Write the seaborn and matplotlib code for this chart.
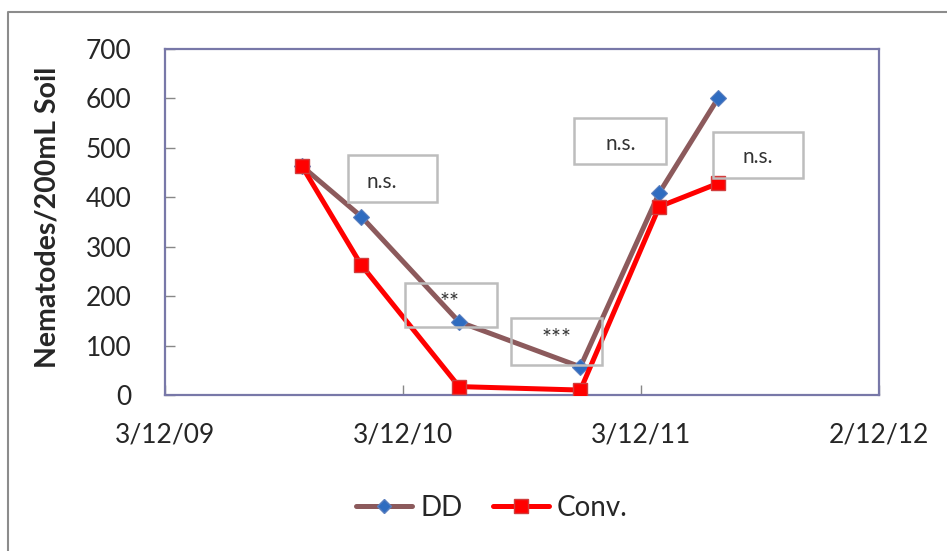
import pandas as pd
import seaborn as sns
import matplotlib.pyplot as plt
from matplotlib.patches import Rectangle
from matplotlib.lines import Line2D

# sampling dates and nematode counts
dates = pd.to_datetime(['2010-07-01', '2010-09-30', '2011-02-27',
                        '2011-09-01', '2011-12-31', '2012-03-30'])
dd_values = [463, 361, 148, 57, 409, 600]
conv_values = [463, 263, 17, 10, 381, 428]
series_names = ['DD', 'Conv.']

# x axis ticks (d/m/yy)
tick_dates = pd.to_datetime(['2009-12-03', '2010-12-03', '2011-12-03', '2012-12-02'])
tick_labels = ['3/12/09', '3/12/10', '3/12/11', '2/12/12']

# significance labels, one per box
sig_labels = ['n.s.', '**', '***', 'n.s.', 'n.s.']

sns.set_style('white')
plt.rcParams['font.family'] = ['Lato', 'DejaVu Sans']

W, H = 947, 551
fig = plt.figure(figsize=(W / 100, H / 100), dpi=100)
ax = fig.add_axes([165 / W, 1 - 395 / H, (879 - 165) / W, (395 - 49) / H])

df = pd.DataFrame({'date': dates, 'DD': dd_values, 'Conv.': conv_values})

dd_col = '#8C5A5C'
conv_col = '#FF0000'

sns.lineplot(data=df, x='date', y='DD', ax=ax, color=dd_col, lw=3.6,
             marker='D', markersize=8, markerfacecolor='#2F6CC0',
             markeredgecolor='#5B7FBF', markeredgewidth=0.8, zorder=3)
sns.lineplot(data=df, x='date', y='Conv.', ax=ax, color=conv_col, lw=3.6,
             marker='s', markersize=10, markerfacecolor='#FF0000',
             markeredgecolor='#D23C3C', markeredgewidth=1.0, zorder=4)

ax.set_xlim(tick_dates[0], tick_dates[-1])
ax.set_ylim(0, 700)
ax.set_yticks(range(0, 701, 100))
ax.set_xticks(tick_dates)
ax.set_xticklabels(tick_labels)

frame_col = '#7878A8'
for s in ax.spines.values():
    s.set_color(frame_col)
    s.set_linewidth(1.6)

ax.tick_params(axis='y', direction='in', length=7, width=1, color='#888888',
               labelsize=19, pad=24, left=True)
ax.tick_params(axis='x', direction='in', length=7, width=1, color='#888888',
               labelsize=19, pad=20, bottom=True)
ax.set_xlabel('')
ax.set_ylabel('Nematodes/200mL Soil', fontsize=20.5, fontweight='bold')
ax.yaxis.set_label_coords((61 - 165) / (879 - 165), (395 - 217) / (395 - 49))

# significance boxes (pixel positions: left, top, width, height, text x, text y)
boxes = [
    (348, 155, 89, 47, 382, 182),
    (405, 283, 92, 44, 450, 303),
    (511, 318, 91, 47, 557, 339),
    (574, 118, 92, 46, 621, 144),
    (713, 132, 90, 46, 758, 157),
]
for (x0, y0, w, h, tx, ty), lab in zip(boxes, sig_labels):
    fig.patches.append(Rectangle((x0 / W, 1 - (y0 + h) / H), w / W, h / H,
                                 transform=fig.transFigure, fill=False,
                                 edgecolor='#BDBDBD', lw=1.8, zorder=5))
    fs = 15 if lab == 'n.s.' else 17
    fig.text(tx / W, 1 - ty / H, lab, ha='center', va='center',
             fontsize=fs, color='#333333', zorder=6)

# legend at the bottom
handles = [
    Line2D([], [], color=dd_col, lw=3.6, marker='D', markersize=7,
           markerfacecolor='#2F6CC0', markeredgecolor='#5B7FBF'),
    Line2D([], [], color=conv_col, lw=3.6, marker='s', markersize=10,
           markerfacecolor='#FF0000', markeredgecolor='#D23C3C'),
]
fig.legend(handles, series_names, loc='center', bbox_to_anchor=(492 / W, 1 - 508 / H),
           ncol=2, frameon=False, fontsize=20, handlelength=2.0,
           handletextpad=0.3, columnspacing=1.1)

# outer chart border (top and left visible)
fig.lines.append(Line2D([8 / W, 8 / W, 1.0], [0.0, 1 - 12 / H, 1 - 12 / H],
                        transform=fig.transFigure, color='#8C8C8C', lw=1.5))

fig.savefig('out.png', dpi=100)
